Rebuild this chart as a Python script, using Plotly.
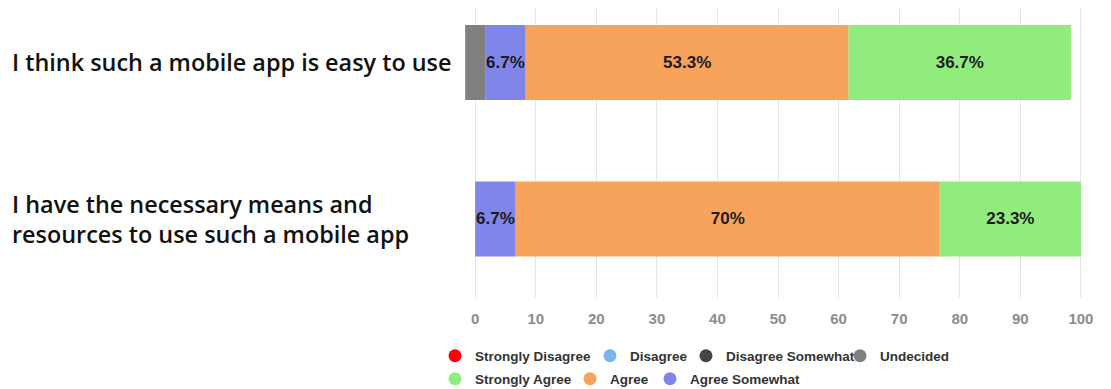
import plotly.graph_objects as go

# ---- data ----
categories = [
    "I think such a mobile app is easy to use",
    "I have the necessary means and resources to use such a mobile app",
]
category_labels = [
    "I think such a mobile app is easy to use",
    "I have the necessary means and<br>resources to use such a mobile app",
]
series_names = ["Strongly Disagree", "Disagree", "Disagree Somewhat", "Undecided",
                "Strongly Agree", "Agree", "Agree Somewhat"]
strongly_disagree = [0.0, 0.0]
disagree = [0.0, 0.0]
disagree_somewhat = [0.0, 0.0]
undecided = [3.3, 0.0]
strongly_agree = [36.7, 23.3]
agree = [53.3, 70.0]
agree_somewhat = [6.7, 6.7]
x_ticks = [0, 10, 20, 30, 40, 50, 60, 70, 80, 90, 100]

colors = {
    "Strongly Disagree": "#ff0000",
    "Disagree": "#7cb5ec",
    "Disagree Somewhat": "#434348",
    "Undecided": "#808080",
    "Strongly Agree": "#90ed7d",
    "Agree": "#f7a35c",
    "Agree Somewhat": "#8085e9",
}

# page has an 8px body margin; figure sized to fit the window
W, H = 1103, 381
LABEL_FONT = dict(family="Liberation Sans, Arial", size=17, color="#1b1b1b", weight="bold")

fig = go.Figure()

# diverging stack: undecided centred on zero, agree side to the right, disagree side to the left
half_u = [u / 2 for u in undecided]
pos_stack = [("Undecided", undecided, [-h for h in half_u])]
b = list(half_u)
for name, vals in [("Agree Somewhat", agree_somewhat), ("Agree", agree), ("Strongly Agree", strongly_agree)]:
    pos_stack.append((name, vals, list(b)))
    b = [bb + v for bb, v in zip(b, vals)]
b = [-h for h in half_u]
for name, vals in [("Disagree Somewhat", disagree_somewhat), ("Disagree", disagree), ("Strongly Disagree", strongly_disagree)]:
    pos_stack.append((name, [-v for v in vals], list(b)))
    b = [bb - v for bb, v in zip(b, vals)]

for name, vals, base in pos_stack:
    texts = [("" if (name == "Undecided" or abs(v) < 5) else f"{abs(v):g}%") for v in vals]
    fig.add_trace(go.Bar(
        y=categories, x=vals, base=base, orientation="h",
        marker=dict(color=colors[name], line=dict(width=0)),
        text=texts, textposition="inside", insidetextanchor="middle",
        textangle=0, constraintext="none", textfont=LABEL_FONT,
        width=0.479, showlegend=False, hoverinfo="skip", name=name,
    ))

# legend entries (circle markers), placed like the original flow layout (page pixels)
legend_pos = {
    "Strongly Disagree": (457, 356),
    "Disagree": (612, 356),
    "Disagree Somewhat": (708, 356),
    "Undecided": (862, 356),
    "Strongly Agree": (457, 379),
    "Agree": (592, 379),
    "Agree Somewhat": (672, 379),
}
legend_layouts = {}
for i, name in enumerate(series_names):
    key = "legend" if i == 0 else f"legend{i + 1}"
    fig.add_trace(go.Scatter(
        x=[None], y=[None], mode="markers", name=name,
        marker=dict(symbol="circle", size=13, color=colors[name]),
        legend=key, showlegend=True, hoverinfo="skip",
    ))
    px, py = legend_pos[name]
    legend_layouts[key] = dict(
        x=(px - 30) / W, y=1 - (py - 8) / H, xref="container", yref="container",
        xanchor="left", yanchor="middle", bgcolor="rgba(0,0,0,0)",
        borderwidth=0, itemsizing="trace", itemclick=False, itemdoubleclick=False,
        font=dict(family="Liberation Sans, Arial", size=13.5, color="#333333", weight="bold"),
    )

# category labels on the left
for cat, lab in zip(categories, category_labels):
    fig.add_annotation(
        x=-0.7177, xref="paper", y=cat, yref="y", text=lab, showarrow=False,
        xanchor="left", yanchor="middle", align="left",
        font=dict(family="Open Sans", size=23.4, color="#111111", weight=600),
    )

fig.update_layout(
    width=W, height=H, autosize=False,
    margin=dict(l=452, r=24, t=0, b=91, autoexpand=False),
    barmode="overlay",
    plot_bgcolor="white", paper_bgcolor="white",
    xaxis=dict(type="linear", range=[-2.5, 101], tickvals=x_ticks, showgrid=True, gridcolor="#e6e6e6",
               gridwidth=1, zeroline=False, showline=False, ticks="", ticklabelstandoff=10,
               tickfont=dict(family="Liberation Sans, Arial", size=15, color="#8c8c8c", weight="bold")),
    yaxis=dict(type="category", categoryorder="array", categoryarray=categories, range=[1.505, -0.348],
               showticklabels=False, showgrid=False, zeroline=False, showline=False),
    **legend_layouts,
)

fig.write_html("out.html")
